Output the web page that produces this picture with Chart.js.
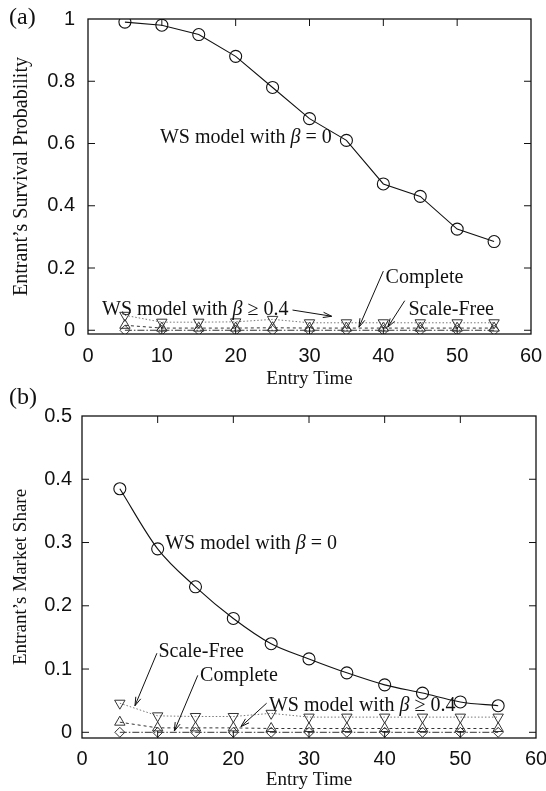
<!DOCTYPE html>
<html><head><meta charset="utf-8">
<script src="https://cdn.jsdelivr.net/npm/chart.js@4.4.1/dist/chart.umd.min.js"></script>
<style>
body{margin:0;background:#fff;width:546px;height:791px;position:relative;overflow:hidden}
.wrap{position:absolute;left:0}
.lbl{position:absolute;font-family:"Liberation Serif",serif;font-size:24px;color:#111}
</style></head><body>
<div class="wrap" style="top:0"><canvas id="c1" width="546" height="390"></canvas></div>
<div class="wrap" style="top:390px"><canvas id="c2" width="546" height="401"></canvas></div>
<div class="lbl" style="left:9px;top:3px">(a)</div>
<div class="lbl" style="left:9px;top:383px">(b)</div>
<script>
// ---- data ----
const entryTimes = [5,10,15,20,25,30,35,40,45,50,55];
const timeTicks = [0,10,20,30,40,50,60];

// panel (a): survival probability
const survivalTicks = [0,0.2,0.4,0.6,0.8,1];
const survivalWS0 = [0.99,0.98,0.95,0.88,0.78,0.68,0.61,0.47,0.43,0.325,0.285];
const survivalWS04 = [0.048,0.026,0.026,0.027,0.035,0.024,0.024,0.024,0.024,0.024,0.024];
const survivalComplete = [0.016,0.007,0.007,0.007,0.008,0.007,0.007,0.007,0.007,0.007,0.007];
const survivalScaleFree = [0,0,0,0,0,0,0,0,0,0,0];

// panel (b): market share
const shareTicks = [0,0.1,0.2,0.3,0.4,0.5];
const shareWS0 = [0.385,0.29,0.23,0.18,0.14,0.116,0.094,0.075,0.062,0.048,0.042];
const shareScaleFree = [0.046,0.026,0.025,0.025,0.03,0.024,0.024,0.024,0.024,0.024,0.024];
const shareWS04 = [0.016,0.007,0.007,0.007,0.006,0.006,0.006,0.006,0.006,0.006,0.006];
const shareComplete = [0,0,0,0,0,0,0,0,0,0,0];

const SERIF = '"Liberation Serif", serif';
const SANS = '"Liberation Sans", Arial, sans-serif';

function pts(vals){ return entryTimes.map((t,i)=>({x:t,y:vals[i]})); }

function mainSet(label, vals, smooth){
  return {label, data:pts(vals), borderColor:'#111', borderWidth:1.1, pointStyle:'circle', pointRadius:6,
    pointBorderColor:'#111', pointBackgroundColor:'rgba(0,0,0,0)', pointBorderWidth:1.1,
    tension:0, cubicInterpolationMode: smooth ? 'monotone' : 'default'};
}
function downSet(label, vals){
  return {label, data:pts(vals), borderColor:'#777', borderWidth:1, borderDash:[1.5,2], pointStyle:'triangle', pointRotation:180,
    pointRadius:6, pointBorderColor:'#333', pointBackgroundColor:'rgba(0,0,0,0)', pointBorderWidth:1};
}
function upSet(label, vals){
  return {label, data:pts(vals), borderColor:'#333', borderWidth:1, borderDash:[3,3], pointStyle:'triangle',
    pointRadius:6, pointBorderColor:'#333', pointBackgroundColor:'rgba(0,0,0,0)', pointBorderWidth:1};
}
function diaSet(label, vals){
  return {label, data:pts(vals), borderColor:'#333', borderWidth:1, borderDash:[7,2,1.5,2], pointStyle:'rectRot',
    pointRadius:5, pointBorderColor:'#333', pointBackgroundColor:'rgba(0,0,0,0)', pointBorderWidth:1};
}

function drawRich(ctx, parts, x, y){
  let cx = x;
  parts.forEach(p=>{
    ctx.font = (p.it ? 'italic ' : '') + '20px ' + SERIF;
    ctx.fillText(p.t, cx, y);
    cx += ctx.measureText(p.t).width;
  });
}

const framePlugin = {
  id:'frame',
  afterDatasetsDraw(chart, args, opts){
    const {ctx, chartArea:a, scales:{x,y}} = chart;
    ctx.save();
    ctx.strokeStyle = '#111';
    ctx.lineWidth = 1.3;
    ctx.strokeRect(a.left, a.top, a.right-a.left, a.bottom-a.top);
    ctx.lineWidth = 1;
    const L = 7;
    const seg=(x1,y1,x2,y2)=>{ctx.beginPath();ctx.moveTo(x1,y1);ctx.lineTo(x2,y2);ctx.stroke();};
    x.ticks.forEach(t=>{
      const px = x.getPixelForValue(t.value);
      if(px < a.left+2 || px > a.right-2) return;
      seg(px,a.bottom,px,a.bottom-L); seg(px,a.top,px,a.top+L);
    });
    y.ticks.forEach(t=>{
      const py = y.getPixelForValue(t.value);
      if(py < a.top+2 || py > a.bottom-1) return;
      seg(a.left,py,a.left+L,py); seg(a.right,py,a.right-L,py);
    });
    // annotations
    ctx.fillStyle = '#111';
    ctx.textBaseline = 'middle';
    ctx.textAlign = 'left';
    (opts.notes||[]).forEach(n=>{
      drawRich(ctx, n.parts, x.getPixelForValue(n.x), y.getPixelForValue(n.y));
    });
    (opts.arrows||[]).forEach(ar=>{
      const x1=x.getPixelForValue(ar.from[0]), y1=y.getPixelForValue(ar.from[1]);
      const x2=x.getPixelForValue(ar.to[0]), y2=y.getPixelForValue(ar.to[1]);
      ctx.lineWidth=1; ctx.strokeStyle='#111';
      seg(x1,y1,x2,y2);
      const ang = Math.atan2(y2-y1,x2-x1), h=9, w=0.3;
      ctx.beginPath();
      ctx.moveTo(x2,y2);
      ctx.lineTo(x2-h*Math.cos(ang-w), y2-h*Math.sin(ang-w));
      ctx.moveTo(x2,y2);
      ctx.lineTo(x2-h*Math.cos(ang+w), y2-h*Math.sin(ang+w));
      ctx.stroke();
    });
    ctx.restore();
  }
};

function makeChart(id, cfg){
  return new Chart(document.getElementById(id), {
    type:'line',
    data:{datasets:cfg.datasets},
    options:{
      responsive:false, animation:false,
      layout:{padding:cfg.padding},
      plugins:{legend:{display:false}, tooltip:{enabled:false}, frame:{notes:cfg.notes, arrows:cfg.arrows}},
      scales:{
        x:{type:'linear', min:0, max:60,
          afterBuildTicks:s=>{s.ticks = timeTicks.map(v=>({value:v}));},
          afterFit:s=>{s.height = cfg.xh; s.paddingRight = 0; s.paddingLeft = 0;},
          grid:{display:false, drawTicks:false}, border:{display:false},
          ticks:{padding:cfg.xpad, color:'#111', font:{family:SANS, size:20}, maxRotation:0},
          title:{display:true, text:'Entry Time', color:'#111', font:{family:SERIF, size:19, lineHeight:1.2}, padding:{top:0,bottom:0}}
        },
        y:{type:'linear', min:cfg.ymin, max:cfg.ymax,
          afterBuildTicks:s=>{s.ticks = cfg.yticks.map(v=>({value:v}));},
          afterFit:s=>{s.width = cfg.yw; s.paddingTop = 0; s.paddingBottom = 0;},
          grid:{display:false, drawTicks:false}, border:{display:false},
          ticks:{padding:cfg.ypad, color:'#111', font:{family:SANS, size:20}, callback:v=>String(v)},
          title:{display:true, text:cfg.ytitle, color:'#111', font:{family:SERIF, size:cfg.ytsize, lineHeight:1.2}, padding:{top:10,bottom:0}}
        }
      }
    },
    plugins:[framePlugin]
  });
}

makeChart('c1', {
  datasets:[
    mainSet('WS model with β = 0', survivalWS0, false),
    downSet('WS model with β ≥ 0.4', survivalWS04),
    upSet('Complete', survivalComplete),
    diaSet('Scale-Free', survivalScaleFree)
  ],
  padding:{left:0, right:15, top:19, bottom:0},
  xh:56, xpad:10, yw:88, ypad:13, ymin:-0.012, ymax:1, yticks:survivalTicks, ytsize:20,
  ytitle:'Entrant’s Survival Probability',
  notes:[
    {x:9.75, y:0.62, parts:[{t:'WS model with '},{t:'β',it:true},{t:' = 0'}]},
    {x:1.9, y:0.065, parts:[{t:'WS model with '},{t:'β',it:true},{t:' ≥ 0.4'}]},
    {x:40.3, y:0.168, parts:[{t:'Complete'}]},
    {x:43.4, y:0.065, parts:[{t:'Scale-Free'}]}
  ],
  arrows:[
    {from:[27.7,0.065], to:[33.0,0.045]},
    {from:[40.0,0.19], to:[36.7,0.01]},
    {from:[42.9,0.095], to:[40.6,0.01]}
  ]
});

makeChart('c2', {
  datasets:[
    mainSet('WS model with β = 0', shareWS0, true),
    downSet('Scale-Free', shareScaleFree),
    upSet('WS model with β ≥ 0.4', shareWS04),
    diaSet('Complete', shareComplete)
  ],
  padding:{left:0, right:10, top:26, bottom:0},
  xh:53, xpad:9, yw:82, ypad:10, ymin:-0.009, ymax:0.5, yticks:shareTicks, ytsize:19,
  ytitle:'Entrant’s Market Share',
  notes:[
    {x:11.0, y:0.298, parts:[{t:'WS model with '},{t:'β',it:true},{t:' = 0'}]},
    {x:10.1, y:0.127, parts:[{t:'Scale-Free'}]},
    {x:15.6, y:0.090, parts:[{t:'Complete'}]},
    {x:24.7, y:0.042, parts:[{t:'WS model with '},{t:'β',it:true},{t:' ≥ 0.4'}]}
  ],
  arrows:[
    {from:[9.9,0.125], to:[7.0,0.042]},
    {from:[15.3,0.09], to:[12.2,0.002]},
    {from:[24.4,0.046], to:[21.0,0.009]}
  ]
});
</script>
</body></html>
